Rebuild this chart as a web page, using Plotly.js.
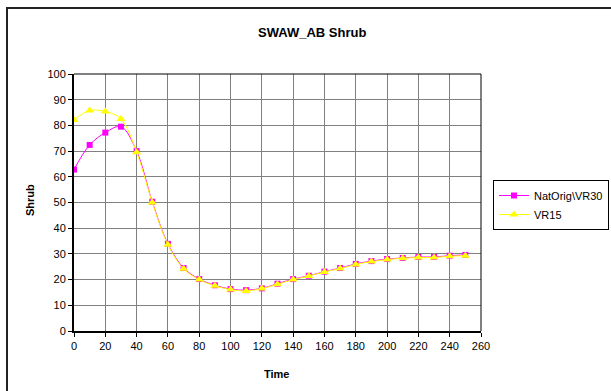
<!DOCTYPE html>
<html><head><meta charset="utf-8">
<script src="https://cdn.plot.ly/plotly-3.0.1.min.js"></script>
<style>html,body{margin:0;padding:0;background:#fff;}#chart{width:611px;height:391px;}</style>
</head><body><div id="chart"></div>
<script>
const time = [0,10,20,30,40,50,60,70,80,90,100,110,120,130,140,150,160,170,180,190,200,210,220,230,240,250];
const natOrigVR30 = [62.8,72.4,77.2,79.5,70.0,50.3,33.9,24.5,20.2,17.8,16.3,15.9,16.6,18.4,20.2,21.5,23.1,24.5,26.1,27.2,28.0,28.4,28.8,28.8,29.3,29.6];
const vr15 = [82.1,85.8,85.4,82.5,69.6,50.0,33.6,24.2,20.0,17.6,16.1,15.6,16.5,18.2,20.0,21.4,23.0,24.3,25.9,27.0,27.8,28.3,28.6,28.6,29.1,29.3];
const seriesNames = ['NatOrig\\VR30','VR15'];
const xTicks = [0,20,40,60,80,100,120,140,160,180,200,220,240,260];
const yTicks = [0,10,20,30,40,50,60,70,80,90,100];

const font = 'Liberation Sans, Arial, sans-serif';
const traces = [
  {x: time, y: natOrigVR30, name: seriesNames[0], type: 'scatter', mode: 'lines+markers',
   line: {color: '#FF00FF', width: 1, shape: 'spline', smoothing: 1},
   marker: {symbol: 'square', size: 6, color: '#FF00FF'}},
  {x: time, y: vr15, name: seriesNames[1], type: 'scatter', mode: 'lines+markers',
   line: {color: '#FFFF00', width: 1, shape: 'spline', smoothing: 1},
   marker: {symbol: 'triangle-up', size: 8, color: '#FFFF00'}}
];
const layout = {
  width: 611, height: 391,
  margin: {l: 74, r: 130, t: 74, b: 60},
  paper_bgcolor: '#fff', plot_bgcolor: '#fff',
  font: {family: font, size: 11, color: '#000'},
  showlegend: true,
  legend: {xref: 'container', yref: 'container', x: 609/611, y: 1 - 180/391, xanchor: 'right', yanchor: 'top',
    bordercolor: '#000', borderwidth: 1, bgcolor: '#fff',
    font: {family: font, size: 11, color: '#000'}, tracegroupgap: 0},
  xaxis: {range: [0, 260], tickvals: xTicks, ticktext: xTicks.map(String),
    showgrid: true, gridcolor: '#808080', gridwidth: 1, zeroline: false,
    showline: true, linecolor: '#000', linewidth: 2,
    ticks: 'outside', ticklen: 4, tickcolor: '#000', tickfont: {size: 11, family: font}},
  yaxis: {range: [0, 100], tickvals: yTicks, ticktext: yTicks.map(String),
    showgrid: true, gridcolor: '#808080', gridwidth: 1, zeroline: false,
    showline: true, linecolor: '#000', linewidth: 2,
    ticks: 'outside', ticklen: 4, tickcolor: '#000', tickfont: {size: 11, family: font}},
  annotations: [
    {text: '<b>SWAW_AB Shrub</b>', xref: 'paper', yref: 'paper', x: (312-74)/407, y: (331-33)/257,
     xanchor: 'center', yanchor: 'middle', showarrow: false, font: {size: 13, family: font}},
    {text: '<b>Time</b>', xref: 'paper', yref: 'paper', x: (276-74)/407, y: (331-374)/257,
     xanchor: 'center', yanchor: 'middle', showarrow: false, font: {size: 11, family: font}},
    {text: '<b>Shrub</b>', xref: 'paper', yref: 'paper', x: (30-74)/407, y: (331-200)/257,
     xanchor: 'center', yanchor: 'middle', showarrow: false, textangle: -90, font: {size: 11, family: font}}
  ],
  shapes: [
    {type: 'line', xref: 'paper', yref: 'paper', x0: 0, x1: 1, y0: 1, y1: 1, line: {color: '#000', width: 1}},
    {type: 'line', xref: 'paper', yref: 'paper', x0: 1, x1: 1, y0: 0, y1: 1, line: {color: '#000', width: 1}},
    {type: 'rect', xref: 'paper', yref: 'paper', x0: (7-74)/407, x1: 1.6, y0: (331-8)/257, y1: -0.5,
     line: {color: '#222', width: 2}, fillcolor: 'rgba(0,0,0,0)', layer: 'below'}
  ]
};
Plotly.newPlot('chart', traces, layout, {displayModeBar: false, staticPlot: true});
</script></body></html>
